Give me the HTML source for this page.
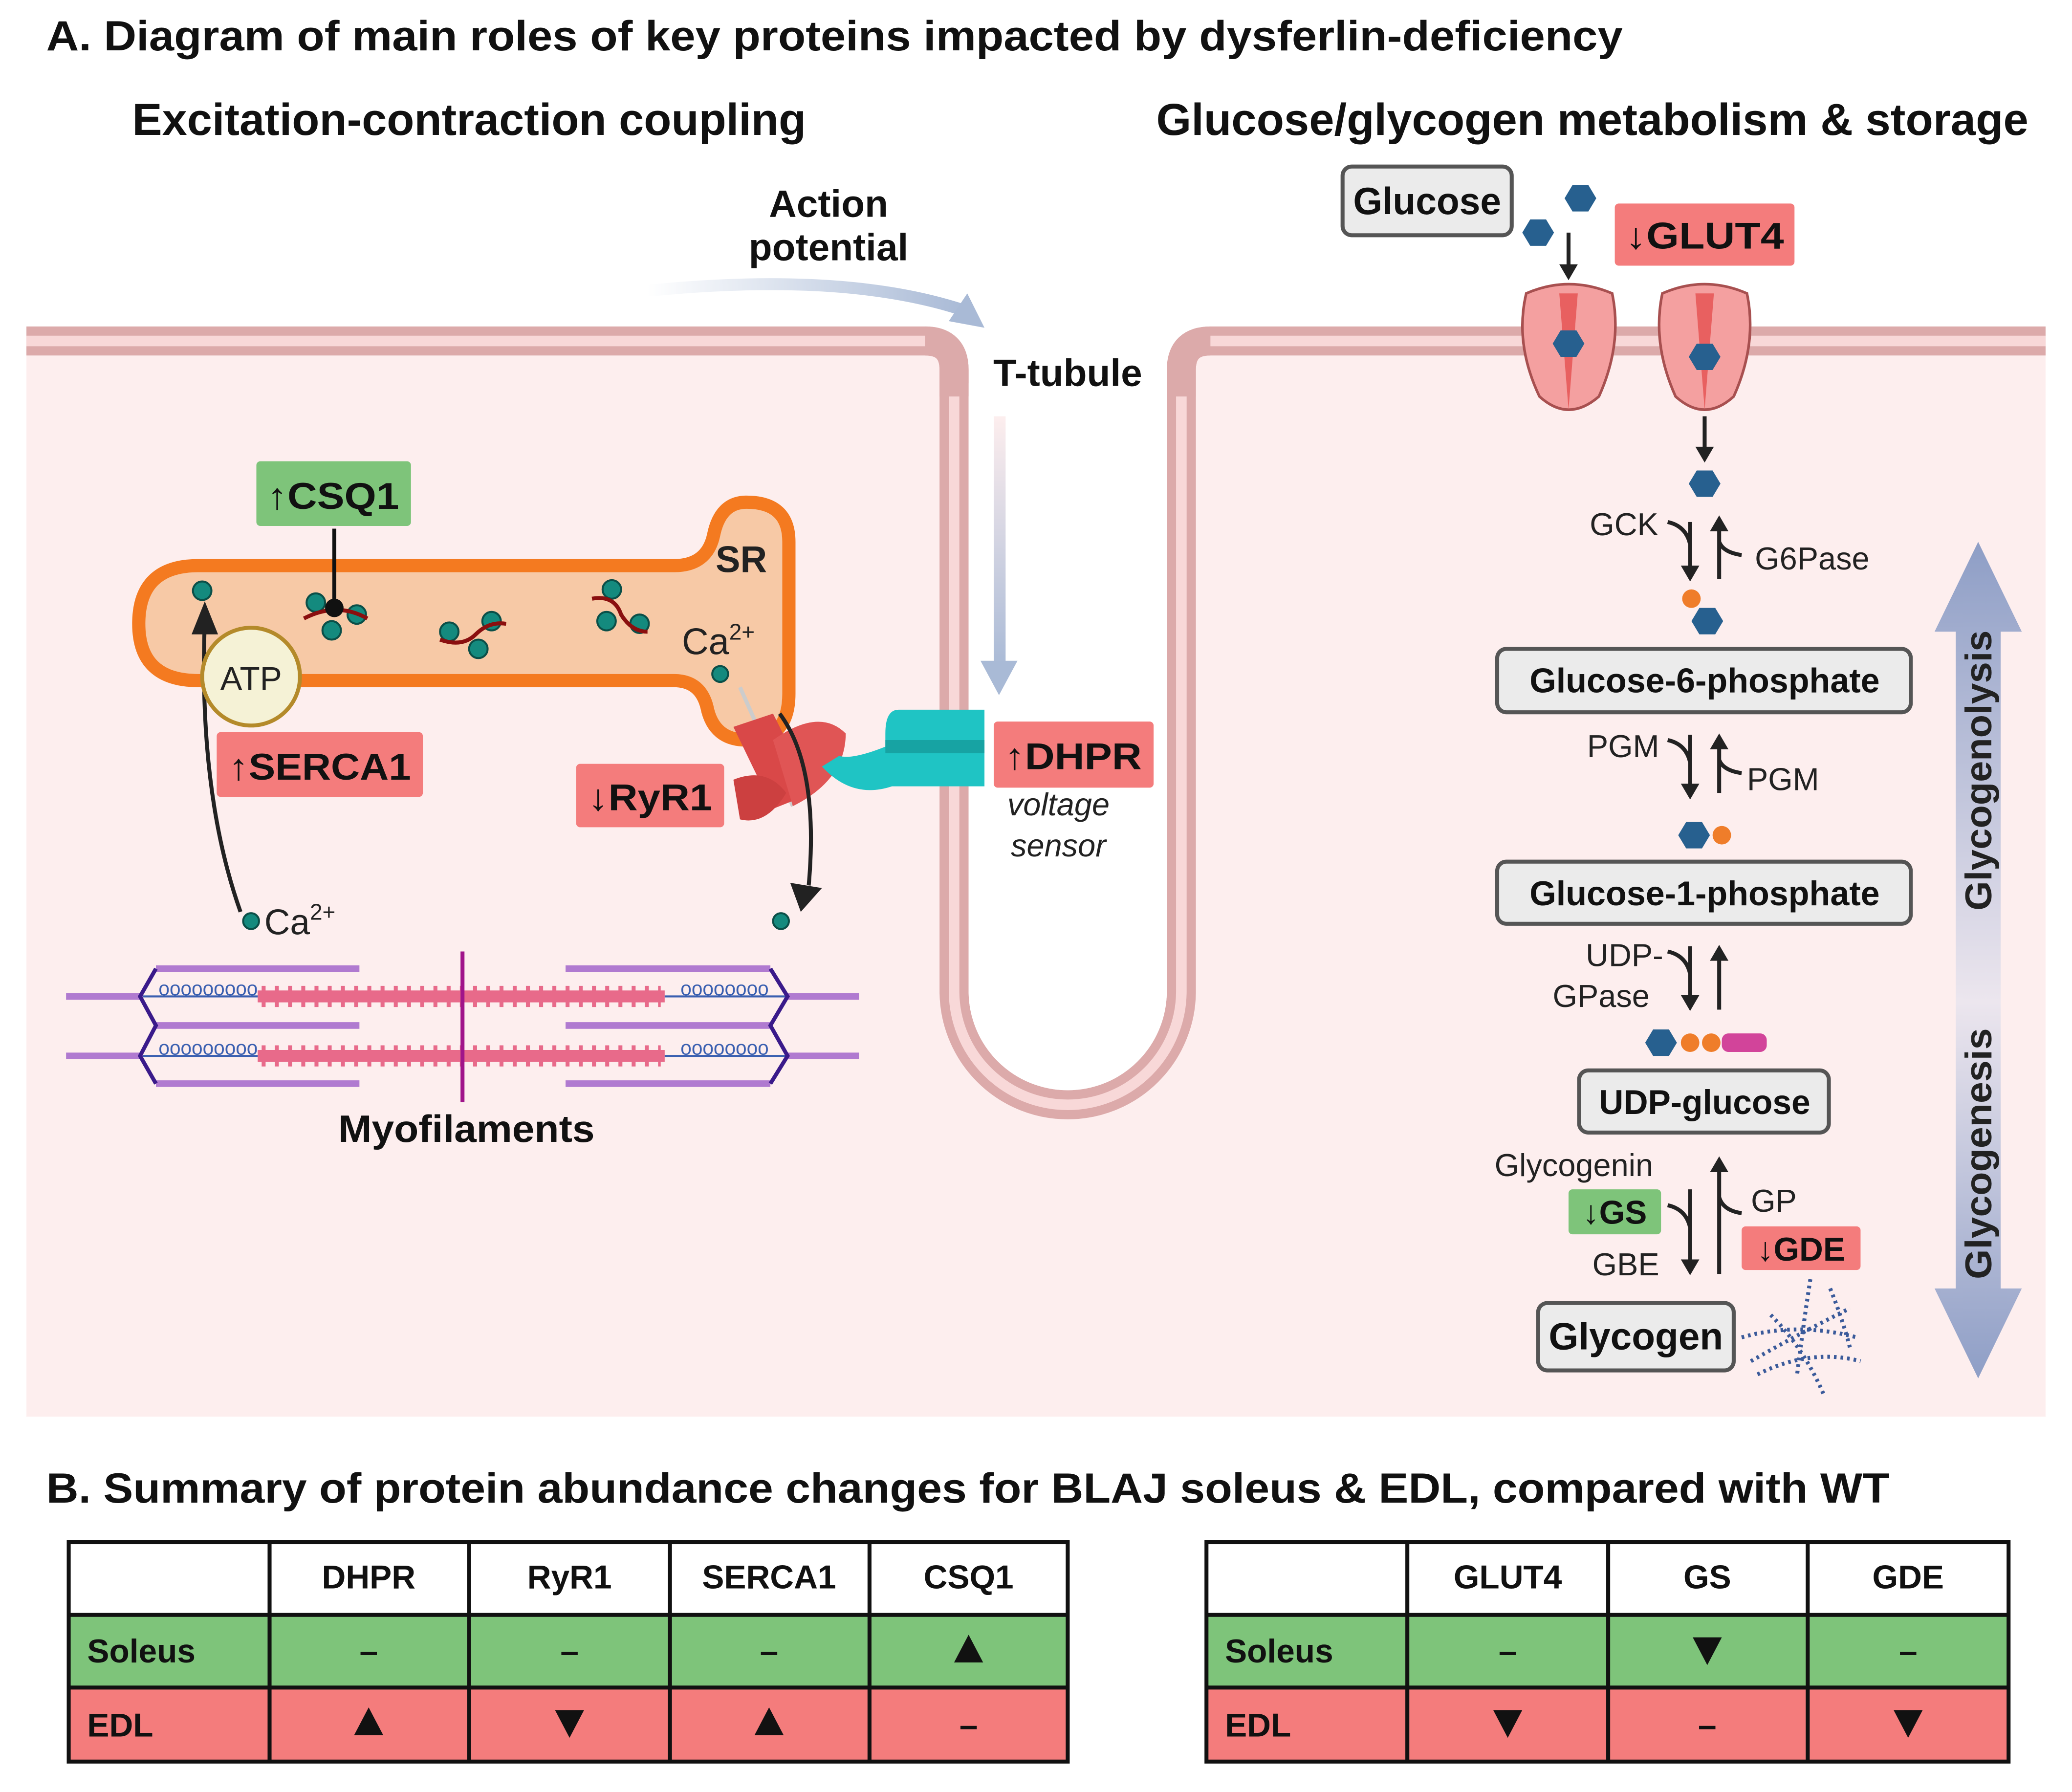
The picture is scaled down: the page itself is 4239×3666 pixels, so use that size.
<!DOCTYPE html>
<html><head><meta charset="utf-8"><style>
html,body{margin:0;padding:0;background:#fff;}
svg{display:block;}
text{font-family:"Liberation Sans",sans-serif;}
</style></head><body>
<svg width="4239" height="3666" viewBox="0 0 1568 1356" xmlns="http://www.w3.org/2000/svg">
<defs>
<linearGradient id="ga" x1="0" y1="0" x2="1" y2="0"><stop offset="0" stop-color="#fff"/><stop offset="1" stop-color="#a9bad6"/></linearGradient>
<linearGradient id="gv" x1="0" y1="0" x2="0" y2="1"><stop offset="0" stop-color="#fdeeee"/><stop offset="1" stop-color="#a9bad6"/></linearGradient>
<linearGradient id="gg" x1="0" y1="0" x2="0" y2="1"><stop offset="0" stop-color="#8e9ec6"/><stop offset="0.55" stop-color="#ece6ee"/><stop offset="1" stop-color="#8e9ec6"/></linearGradient>
</defs>
<rect width="1568" height="1356" fill="#fff"/>
<text x="35" y="38" font-size="32" font-weight="bold" fill="#111" textLength="1193" lengthAdjust="spacingAndGlyphs">A. Diagram of main roles of key proteins impacted by dysferlin-deficiency</text>
<text x="100" y="102" font-size="34" font-weight="bold" fill="#111" textLength="510" lengthAdjust="spacingAndGlyphs">Excitation-contraction coupling</text>
<text x="875" y="102" font-size="34" font-weight="bold" fill="#111" textLength="660" lengthAdjust="spacingAndGlyphs">Glucose/glycogen metabolism &amp; storage</text>

<!-- cell -->
<path d="M20 258 H700 Q722 258 722 280 V750 A86 86 0 0 0 894 750 V280 Q894 258 916 258 H1548 V1072 H20 Z" fill="#fdeeee"/>
<path d="M20 258 H700 Q722 258 722 280 V750 A86 86 0 0 0 894 750 V280 Q894 258 916 258 H1548" fill="none" stroke="#dcaaaa" stroke-width="22"/>
<path d="M20 258 H700 Q722 258 722 280 V750 A86 86 0 0 0 894 750 V280 Q894 258 916 258 H1548" fill="none" stroke="#f8d8d8" stroke-width="8"/>
<path d="M733 290 V750 A75 75 0 0 0 883 750 V290" fill="#fff"/>
<rect x="734" y="240" width="148" height="60" fill="#fff"/>
<path d="M700 258 Q722 258 722 280 V300 M894 300 V280 Q894 258 916 258" fill="none" stroke="#dcaaaa" stroke-width="22"/>

<!-- action potential -->
<text x="627" y="164" font-size="29" font-weight="bold" text-anchor="middle" fill="#111">Action</text>
<text x="627" y="197" font-size="29" font-weight="bold" text-anchor="middle" fill="#111">potential</text>
<path d="M490 220 Q640 205 730 235" fill="none" stroke="url(#ga)" stroke-width="9"/>
<polygon points="745,248 718,243 732,222" fill="#a9bad6"/>
<text x="808" y="292" font-size="29" font-weight="bold" text-anchor="middle" fill="#111">T-tubule</text>
<rect x="752" y="315" width="9" height="190" fill="url(#gv)"/>
<polygon points="742,500 770,500 756,526" fill="#a9bad6"/>

<!-- SR -->
<path d="M150 428 H510 Q535 428 540 405 Q545 380 565 380 Q597 380 597 410 V525 Q597 560 565 560 Q540 560 535 535 Q530 515 510 515 H150 Q105 515 105 472 Q105 428 150 428 Z" fill="#f7c9a6" stroke="#f47a20" stroke-width="10"/>
<text x="561" y="433" font-size="28" font-weight="bold" text-anchor="middle" fill="#222">SR</text>
<text x="516" y="495" font-size="28" fill="#222">Ca<tspan font-size="17" dy="-11">2+</tspan></text>
<g fill="#148a7e" stroke="#0b4f48" stroke-width="1.5">
<circle cx="153" cy="447" r="7"/><circle cx="545" cy="510" r="6"/>
<circle cx="239" cy="456" r="7"/><circle cx="270" cy="465" r="7"/><circle cx="251" cy="477" r="7"/>
<circle cx="340" cy="478" r="7"/><circle cx="372" cy="470" r="7"/><circle cx="362" cy="491" r="7"/>
<circle cx="463" cy="446" r="7"/><circle cx="459" cy="470" r="7"/><circle cx="484" cy="472" r="7"/>
<circle cx="190" cy="697" r="6"/><circle cx="591" cy="697" r="6"/>
</g>
<g fill="none" stroke="#8a0f0f" stroke-width="3">
<path d="M230 468 Q255 455 278 468"/><path d="M333 484 Q350 490 360 480 Q370 470 383 472"/><path d="M448 453 Q465 450 470 465 Q478 478 490 478"/>
</g>
<line x1="253" y1="400" x2="253" y2="460" stroke="#111" stroke-width="3"/>
<circle cx="253" cy="460" r="7" fill="#111"/>
<rect x="194" y="349" width="117" height="49" rx="3" fill="#7ec47a"/>
<text x="252" y="385" font-size="28" font-weight="bold" text-anchor="middle" fill="#111" textLength="100" lengthAdjust="spacingAndGlyphs">↑CSQ1</text>

<path d="M182 690 Q150 600 155 470" fill="none" stroke="#222" stroke-width="3"/>
<polygon points="145,480 165,480 155,455" fill="#222"/>
<circle cx="190" cy="512" r="37" fill="#f5f2d6" stroke="#b48a2a" stroke-width="3"/>
<text x="190" y="522" font-size="25" text-anchor="middle" fill="#222">ATP</text>
<rect x="164" y="554" width="156" height="49" rx="3" fill="#f47c7c"/>
<text x="242" y="590" font-size="28" font-weight="bold" text-anchor="middle" fill="#111" textLength="138" lengthAdjust="spacingAndGlyphs">↑SERCA1</text>
<text x="200" y="707" font-size="27" fill="#222">Ca<tspan font-size="17" dy="-11">2+</tspan></text>

<!-- RyR1 -->
<path d="M560 520 L600 610" stroke="#ccc" stroke-width="3"/>
<path d="M555 550 L585 540 L615 600 L585 612 Z" fill="#d94848"/>
<path d="M585 560 Q620 535 640 555 Q640 590 600 610 Z" fill="#e05555"/>
<path d="M555 590 Q580 580 595 600 Q580 625 560 620 Z" fill="#cc4040"/>
<path d="M590 540 Q620 580 612 670" fill="none" stroke="#222" stroke-width="3"/>
<polygon points="598,668 622,672 606,690" fill="#222"/>
<rect x="436" y="578" width="112" height="48" rx="3" fill="#f47c7c"/>
<text x="492" y="613" font-size="28" font-weight="bold" text-anchor="middle" fill="#111" textLength="94" lengthAdjust="spacingAndGlyphs">↓RyR1</text>
<!-- DHPR -->
<path d="M622 580 Q645 605 675 595 H745 V537 H680 Q670 537 670 555 V565 Q645 575 635 572 Z" fill="#1fc4c4"/>
<rect x="670" y="560" width="75" height="10" fill="#17a3a3"/>
<rect x="752" y="546" width="121" height="50" rx="3" fill="#f47c7c"/>
<text x="812" y="582" font-size="28" font-weight="bold" text-anchor="middle" fill="#111" textLength="104" lengthAdjust="spacingAndGlyphs">↑DHPR</text>
<text x="801" y="617" font-size="24" font-style="italic" text-anchor="middle" fill="#222">voltage</text>
<text x="801" y="648" font-size="24" font-style="italic" text-anchor="middle" fill="#222">sensor</text>

<!-- myofilaments -->
<g>
<g stroke="#b07ad0" stroke-width="5">
<line x1="50" y1="754" x2="108" y2="754"/><line x1="50" y1="799" x2="108" y2="799"/>
<line x1="596" y1="754" x2="650" y2="754"/><line x1="596" y1="799" x2="650" y2="799"/>
<line x1="118" y1="733" x2="272" y2="733"/><line x1="118" y1="776" x2="272" y2="776"/><line x1="118" y1="820" x2="272" y2="820"/>
<line x1="428" y1="733" x2="583" y2="733"/><line x1="428" y1="776" x2="583" y2="776"/><line x1="428" y1="820" x2="583" y2="820"/>
</g>
<g stroke="#e86a8a" stroke-width="9">
<line x1="195" y1="754" x2="503" y2="754"/><line x1="195" y1="799" x2="503" y2="799"/>
</g>
<g stroke="#e86a8a" stroke-width="16" stroke-dasharray="3 7">
<line x1="198" y1="754" x2="500" y2="754"/><line x1="198" y1="799" x2="500" y2="799"/>
</g>
<g stroke="#3a5fb0" stroke-width="1.5" fill="none">
<line x1="108" y1="754" x2="195" y2="754"/><line x1="503" y1="754" x2="596" y2="754"/>
<line x1="108" y1="799" x2="195" y2="799"/><line x1="503" y1="799" x2="596" y2="799"/>
</g>
<g fill="#3a5fb0" font-size="15"><text x="120" y="753">ooooooooo</text><text x="515" y="753">oooooooo</text><text x="120" y="798">ooooooooo</text><text x="515" y="798">oooooooo</text></g>
<g stroke="#3a1a8a" stroke-width="3" fill="none">
<path d="M118 733 L106 754 L118 776 L106 799 L118 820"/><path d="M583 733 L596 754 L583 776 L596 799 L583 820"/>
</g>
<line x1="350" y1="720" x2="350" y2="834" stroke="#a0148a" stroke-width="3"/>
</g>
<text x="353" y="864" font-size="29" font-weight="bold" text-anchor="middle" fill="#111" textLength="194" lengthAdjust="spacingAndGlyphs">Myofilaments</text>

<!-- right side -->
<rect x="1016" y="126" width="128" height="52" rx="7" fill="#ebebeb" stroke="#555" stroke-width="3"/>
<text x="1080" y="162" font-size="29" font-weight="bold" text-anchor="middle" fill="#111" textLength="112" lengthAdjust="spacingAndGlyphs">Glucose</text>
<g fill="#27608f">
<polygon points="1184,150 1190,140 1202,140 1208,150 1202,160 1190,160"/>
<polygon points="1152,176 1158,166 1170,166 1176,176 1170,186 1158,186"/>
<polygon points="1278,366 1284,356 1296,356 1302,366 1296,376 1284,376"/>
<polygon points="1280,470 1286,460 1298,460 1304,470 1298,480 1286,480"/>
<polygon points="1270,632 1276,622 1288,622 1294,632 1288,642 1276,642"/>
<polygon points="1245,789 1251,779 1263,779 1269,789 1263,799 1251,799"/>
</g>
<line x1="1187" y1="176" x2="1187" y2="205" stroke="#222" stroke-width="3"/><polygon points="1180,200 1194,200 1187,212" fill="#222"/>
<rect x="1222" y="154" width="136" height="47" rx="3" fill="#f47c7c"/>
<text x="1290" y="188" font-size="28" font-weight="bold" text-anchor="middle" fill="#111" textLength="120" lengthAdjust="spacingAndGlyphs">↓GLUT4</text>
<g fill="#f4a0a0" stroke="#a85050" stroke-width="2">
<path d="M1155 222 Q1187 208 1220 222 Q1228 260 1210 300 Q1187 320 1165 300 Q1146 260 1155 222 Z"/>
<path d="M1258 222 Q1290 208 1322 222 Q1330 260 1312 300 Q1290 320 1268 300 Q1250 260 1258 222 Z"/>
</g>
<path d="M1180 222 L1187 310 L1194 222 Z M1283 222 L1290 310 L1297 222Z" fill="#e86060"/>
<g fill="#27608f"><polygon points="1175,260 1181,250 1193,250 1199,260 1193,270 1181,270"/><polygon points="1278,270 1284,260 1296,260 1302,270 1296,280 1284,280"/></g>
<line x1="1290" y1="315" x2="1290" y2="342" stroke="#222" stroke-width="3"/><polygon points="1283,338 1297,338 1290,350" fill="#222"/>
<circle cx="1280" cy="453" r="7" fill="#ef7d2a"/>
<circle cx="1303" cy="632" r="7" fill="#ef7d2a"/>
<circle cx="1279" cy="789" r="7" fill="#ef7d2a"/><circle cx="1295" cy="789" r="7" fill="#ef7d2a"/>
<rect x="1303" y="782" width="34" height="14" rx="5" fill="#d2449a"/>

<g fill="none" stroke="#222" stroke-width="3">
<path d="M1279 395 V430 M1262 395 Q1276 398 1279 412"/><path d="M1301 438 V400 M1318 420 Q1304 418 1301 410"/>
<path d="M1279 556 V595 M1262 560 Q1276 563 1279 577"/><path d="M1301 600 V565 M1318 585 Q1304 583 1301 575"/>
<path d="M1279 716 V755 M1262 720 Q1276 723 1279 737"/><path d="M1301 764 V725"/>
<path d="M1279 900 V955 M1262 912 Q1276 915 1279 929"/><path d="M1301 964 V885 M1318 918 Q1304 916 1301 906"/>
</g>
<g fill="#222">
<polygon points="1272,428 1286,428 1279,440"/><polygon points="1294,402 1308,402 1301,390"/>
<polygon points="1272,593 1286,593 1279,605"/><polygon points="1294,567 1308,567 1301,555"/>
<polygon points="1272,753 1286,753 1279,765"/><polygon points="1294,727 1308,727 1301,715"/>
<polygon points="1272,953 1286,953 1279,965"/><polygon points="1294,887 1308,887 1301,875"/>
</g>
<g font-size="24" fill="#222">
<text x="1203" y="405">GCK</text><text x="1328" y="431">G6Pase</text>
<text x="1201" y="573">PGM</text><text x="1322" y="598">PGM</text>
<text x="1200" y="731">UDP-</text><text x="1175" y="762">GPase</text>
<text x="1131" y="890">Glycogenin</text><text x="1325" y="917">GP</text><text x="1205" y="965">GBE</text>
</g>
<rect x="1187" y="900" width="70" height="34" rx="3" fill="#7ec47a"/>
<text x="1222" y="926" font-size="25" font-weight="bold" text-anchor="middle" fill="#111">↓GS</text>
<rect x="1318" y="928" width="90" height="33" rx="3" fill="#f47c7c"/>
<text x="1363" y="954" font-size="25" font-weight="bold" text-anchor="middle" fill="#111">↓GDE</text>

<g fill="#ebebeb" stroke="#555" stroke-width="3">
<rect x="1133" y="491" width="313" height="48" rx="7"/><rect x="1133" y="652" width="313" height="47" rx="7"/>
<rect x="1195" y="810" width="189" height="47" rx="7"/><rect x="1164" y="986" width="148" height="51" rx="7"/>
</g>
<g font-weight="bold" fill="#111" text-anchor="middle">
<text x="1290" y="524" font-size="26" textLength="265" lengthAdjust="spacingAndGlyphs">Glucose-6-phosphate</text>
<text x="1290" y="685" font-size="26" textLength="265" lengthAdjust="spacingAndGlyphs">Glucose-1-phosphate</text>
<text x="1290" y="843" font-size="26" textLength="160" lengthAdjust="spacingAndGlyphs">UDP-glucose</text>
<text x="1238" y="1021" font-size="29" textLength="132" lengthAdjust="spacingAndGlyphs">Glycogen</text>
</g>
<g stroke="#3a5a9a" stroke-width="3" stroke-dasharray="2 3" fill="none">
<path d="M1318 1012 Q1360 1000 1405 1012"/><path d="M1325 1030 Q1360 1010 1400 990"/><path d="M1340 995 Q1365 1020 1380 1055"/>
<path d="M1370 968 Q1365 1000 1360 1040"/><path d="M1330 1040 Q1370 1020 1408 1030"/><path d="M1385 975 Q1395 1000 1400 1020"/>
</g>
<!-- big arrow -->
<path d="M1497 410 L1530 478 H1514 V975 H1530 L1497 1043 L1464 975 H1480 V478 H1464 Z" fill="url(#gg)"/>
<text transform="translate(1507 583) rotate(-90)" font-size="28" font-weight="bold" text-anchor="middle" fill="#222" textLength="212" lengthAdjust="spacingAndGlyphs">Glycogenolysis</text>
<text transform="translate(1507 873) rotate(-90)" font-size="28" font-weight="bold" text-anchor="middle" fill="#222" textLength="190" lengthAdjust="spacingAndGlyphs">Glycogenesis</text>

<!-- B -->
<text x="35" y="1137" font-size="32" font-weight="bold" fill="#111" textLength="1395" lengthAdjust="spacingAndGlyphs">B. Summary of protein abundance changes for BLAJ soleus &amp; EDL, compared with WT</text>
<g>
<rect x="52" y="1167" width="756" height="55" fill="#fff"/>
<rect x="52" y="1222" width="756" height="55" fill="#7ec47a"/>
<rect x="52" y="1277" width="756" height="56" fill="#f47c7c"/>
<rect x="913" y="1167" width="607" height="55" fill="#fff"/>
<rect x="913" y="1222" width="607" height="55" fill="#7ec47a"/>
<rect x="913" y="1277" width="607" height="56" fill="#f47c7c"/>
<g stroke="#111" stroke-width="3" fill="none">
<rect x="52" y="1167" width="756" height="166"/><rect x="913" y="1167" width="607" height="166"/>
<path d="M52 1222 H808 M52 1277 H808 M204 1167 V1333 M355 1167 V1333 M507 1167 V1333 M658 1167 V1333"/>
<path d="M913 1222 H1520 M913 1277 H1520 M1065 1167 V1333 M1217 1167 V1333 M1368 1167 V1333"/>
</g>
<g font-size="25" font-weight="bold" fill="#111" text-anchor="middle">
<text x="279" y="1202">DHPR</text><text x="431" y="1202">RyR1</text><text x="582" y="1202">SERCA1</text><text x="733" y="1202">CSQ1</text>
<text x="1141" y="1202">GLUT4</text><text x="1292" y="1202">GS</text><text x="1444" y="1202">GDE</text>
<text x="279" y="1258">–</text><text x="431" y="1258">–</text><text x="582" y="1258">–</text>
<text x="733" y="1314">–</text>
<text x="1141" y="1258">–</text><text x="1444" y="1258">–</text>
<text x="1292" y="1314">–</text>
</g>
<g fill="#111">
<polygon points="722,1258 744,1258 733,1237"/>
<polygon points="268,1313 290,1313 279,1292"/><polygon points="571,1313 593,1313 582,1292"/>
<polygon points="420,1294 442,1294 431,1315"/>
<polygon points="1281,1239 1303,1239 1292,1260"/>
<polygon points="1130,1294 1152,1294 1141,1315"/><polygon points="1433,1294 1455,1294 1444,1315"/>
</g>
<g font-size="25" font-weight="bold" fill="#111">
<text x="66" y="1258">Soleus</text><text x="66" y="1314">EDL</text>
<text x="927" y="1258">Soleus</text><text x="927" y="1314">EDL</text>
</g>
</g>
</svg>
</body></html>
